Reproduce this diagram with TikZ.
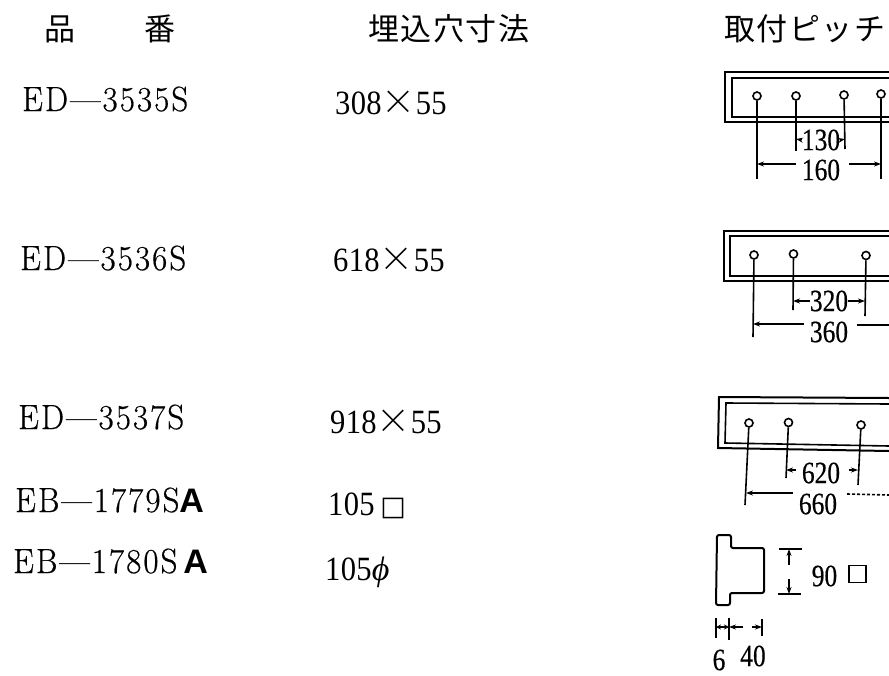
\documentclass[tikz,border=0pt]{standalone}
\usepackage{fontspec}
\newfontfamily\cjk[LetterSpace=5]{Noto Sans CJK JP}
\newfontfamily\xfont{Noto Sans CJK JP Light}
\newfontfamily\labfont[LetterSpace=6,FakeStretch=0.94,FakeBold=0.5]{Latin Modern Roman}
\newfontfamily\sizefont[FakeStretch=0.9,LetterSpace=1]{Liberation Serif}
\newfontfamily\dimfont[FakeStretch=0.82,FakeBold=0.5]{Liberation Serif}
\newfontfamily\symfont{DejaVu Sans}
\newfontfamily\sansb{Liberation Sans}
\newfontfamily\phifont{Liberation Serif}
\usetikzlibrary{arrows.meta}
\tikzset{
 x=1pt,y=-1pt,
 head/.style={anchor=base west,inner sep=0pt,font=\fontsize{31}{31}\cjk},
 code/.style={anchor=base west,inner sep=0pt,font=\fontsize{35}{35}\labfont},
 size/.style={anchor=base west,inner sep=0pt,font=\fontsize{34}{34}\sizefont},
 dimtxt/.style={anchor=center,inner sep=0pt,font=\fontsize{31}{31}\dimfont},
 hole/.style={draw,circle,line width=1.6pt,minimum size=8pt,inner sep=0pt},
 ln/.style={line width=1.6pt},
 thick ln/.style={line width=2pt},
 dimarrow/.style={line width=1.5pt,-{Stealth[length=7pt,width=5pt]}},
}
\newcommand{\timesmark}{{\xfont ×}}
\newcommand{\lettera}{{\sansb\bfseries\fontsize{34}{34}\selectfont A}}
\begin{document}
\begin{tikzpicture}
\useasboundingbox (0,0) rectangle (889,675);
% headers
\node[head] (h1) at (44,40) {品};
\node[head] (h2) at (144,40) {番};
\node[head] (h3) at (368,40) {埋込穴寸法};
\node[head] (h4) at (724,40) {取付ピッチ};
% codes
\node[code] (c1) at (22,111) {ED—3535S};
\node[code] (c2) at (20,270) {ED—3536S};
\node[code] (c3) at (18,429) {ED—3537S};
\node[code] (c4) at (15,512) {EB—1779S\lettera};
\node[code] (c5) at (13,573) {EB—1780S\,\lettera};
% sizes
\node[size] (s1) at (335,114) {308\timesmark 55};
\node[size] (s2) at (333,271) {618\timesmark 55};
\node[size] (s3) at (330,433) {918\timesmark 55};
\node[size] (s4) at (328,515) {105\,{\symfont\fontsize{27}{27}\selectfont □}};
\node[size] (s5) at (325,580) {105{\phifont\itshape ϕ}};
% row 1
\draw[thick ln] (889,72) -- (725,72) -- (725,122) -- (889,122);
\draw[ln] (889,78) -- (732,78) -- (732,117) -- (889,117);
\node[hole] (a1) at (757,96) {};
\node[hole] (a2) at (796,96) {};
\node[hole] (a3) at (844,95) {};
\node[hole] (a4) at (881,94) {};
\coordinate (a1e) at (757,179);\coordinate (a2e) at (796,151);\coordinate (a3e) at (845,149);\coordinate (a4e) at (881,179);
\draw[ln] (a1) -- (a1e); \draw[ln] (a2) -- (a2e); \draw[ln] (a3) -- (a3e); \draw[ln] (a4) -- (a4e);
\node[dimtxt] (d1) at (821,140) {130};
\node[dimtxt] (d2) at (821,170) {160};
\coordinate (p1) at (796,139);\coordinate (p2) at (845,139);
\coordinate (q1) at (757,164);\coordinate (q2) at (881,164);
\draw[dimarrow] (d1.west) -- (p1); \draw[dimarrow] (d1.east) -- (p2);
\draw[dimarrow] (796,164) -- (q1); \draw[dimarrow] (849,164) -- (q2);
% row 2
\draw[thick ln] (889,231) -- (724,231) -- (724,281) -- (889,281);
\draw[ln] (889,236) -- (730,236) -- (730,276) -- (889,276);
\node[hole] (b1) at (754,255) {};
\node[hole] (b2) at (793.5,254) {};
\node[hole] (b3) at (866,255.5) {};
\coordinate (b1e) at (753,337);\coordinate (b2e) at (793,310);\coordinate (b3e) at (865,316);
\draw[ln] (b1) -- (b1e); \draw[ln] (b2) -- (b2e); \draw[ln] (b3) -- (b3e);
\node[dimtxt] (d3) at (829,301) {320};
\node[dimtxt] (d4) at (829,332) {360};
\coordinate (p3) at (793,301);\coordinate (p4) at (865,301);\coordinate (q3) at (753,324);\coordinate (q4) at (889,325);
\draw[dimarrow] (d3.west) -- (p3); \draw[dimarrow] (d3.east) -- (p4);
\draw[dimarrow] (804,324) -- (q3); \draw[ln] (857,325) -- (q4);
% row 3
\draw[thick ln] (889,398) -- (719,397) -- (718,448) -- (889,451);
\draw[ln] (889,404) -- (726,403) -- (725,443) -- (889,446);
\node[hole] (e1) at (749,423) {};
\node[hole] (e2) at (788.5,422.5) {};
\node[hole] (e3) at (861,425) {};
\coordinate (e1e) at (745,505);\coordinate (e2e) at (786,478);\coordinate (e3e) at (858,485);
\draw[ln] (e1) -- (e1e); \draw[ln] (e2) -- (e2e); \draw[ln] (e3) -- (e3e);
\node[dimtxt] (d5) at (821,473) {620};
\node[dimtxt] (d6) at (818,504) {660};
\coordinate (p5) at (786,470);\coordinate (p6) at (858,470);\coordinate (q5) at (746,493);\coordinate (q6) at (889,495);
\draw[dimarrow] (796,470) -- (p5); \draw[dimarrow] (849,470) -- (p6);
\draw[dimarrow] (793,493) -- (q5); \draw[ln,densely dashed] (847,494) -- (q6);
% row 4 profile
\draw[thick ln,rounded corners=2pt] (717,535) -- (731,535) -- (731,548) -- (764,548) -- (764,593) -- (730,593) -- (730,605) -- (716,605) -- cycle;
\coordinate (t1) at (779,549);\coordinate (t2) at (802,549);\coordinate (t3) at (778,594);\coordinate (t4) at (801,594);
\draw[ln] (t1) -- (t2); \draw[ln] (t3) -- (t4);
\coordinate (ta) at (789,549);\coordinate (tb) at (789,594);
\draw[dimarrow] (789,565) -- (ta); \draw[dimarrow] (789,579) -- (tb);
\node[dimtxt] (n90) at (824.5,576) {90};
\node[draw,ln,minimum size=17pt,inner sep=0pt] (sq) at (857.5,574) {};
\coordinate (u1) at (716,618);\coordinate (u1b) at (716,638);\coordinate (u2) at (729,618);\coordinate (u2b) at (729,640);\coordinate (u3) at (762,619);\coordinate (u3b) at (762,636);
\draw[ln] (u1) -- (u1b); \draw[ln] (u2) -- (u2b); \draw[ln] (u3) -- (u3b);
\coordinate (v1) at (716,627);\coordinate (v2) at (729,627);\coordinate (v3) at (762,627);
\draw[line width=1.4pt,{Stealth[length=5pt,width=5pt]}-{Stealth[length=5pt,width=5pt]}] (v1) -- (v2);
\draw[dimarrow] (743,627) -- (v2); \draw[dimarrow] (752,627) -- (v3);
\node[dimtxt] (n6) at (719,660) {6};
\node[dimtxt] (n40) at (753,656) {40};
\end{tikzpicture}
\end{document}
